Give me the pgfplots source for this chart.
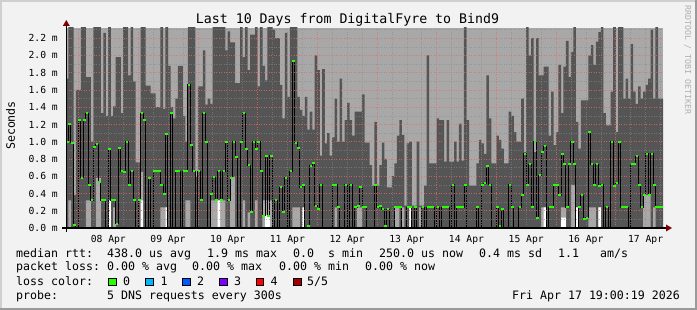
\documentclass[border=0pt]{standalone}
\usepackage{pgfplots}
\pgfplotsset{compat=1.18}
\usepackage{pgfplotstable}
\usepackage{fontspec}
\setmainfont{DejaVu Sans Mono}
\definecolor{bgc}{HTML}{F2F2F2}
\definecolor{brdlight}{HTML}{CFCFCF}
\definecolor{brddark}{HTML}{9A9A9A}
\definecolor{smokelight}{HTML}{A8A8A8}
\definecolor{smokedark}{HTML}{555555}
\definecolor{mgrid}{HTML}{E86A6A}
\definecolor{sgrid}{HTML}{8A8A8A}
\definecolor{arrowc}{HTML}{7F0000}
\definecolor{lossA}{HTML}{26FF00}
\definecolor{lossB}{HTML}{00B8FF}
\definecolor{lossC}{HTML}{0059FF}
\definecolor{lossD}{HTML}{7E00FF}
\definecolor{lossE}{HTML}{FF0000}
\definecolor{lossF}{HTML}{A10000}
\definecolor{credit}{HTML}{B0B0B0}

% dark smoke band top (ms), one value per hour, 240 hours
\pgfplotstableread[row sep=\\]{h\\
1.73\\2.4\\2.4\\0.38\\1.6\\1.6\\2.4\\2.4\\1.75\\1.75\\
1.0\\2.4\\2.4\\2.4\\1.33\\2.26\\1.3\\2.4\\1.3\\1.41\\
1.98\\1.98\\1.33\\2.4\\2.4\\1.77\\2.4\\1.7\\0.76\\0.76\\
2.4\\2.4\\1.65\\1.65\\1.56\\1.56\\1.4\\1.4\\2.4\\1.38\\
2.4\\1.88\\1.4\\1.27\\1.5\\1.88\\1.88\\1.3\\1.0\\2.4\\
2.4\\2.4\\0.59\\1.64\\1.64\\2.06\\1.43\\1.5\\1.44\\2.4\\
2.4\\2.4\\2.4\\2.4\\2.06\\2.28\\2.15\\2.15\\1.68\\1.68\\
2.4\\1.98\\2.4\\1.83\\2.24\\2.24\\2.4\\1.64\\2.4\\1.88\\
1.71\\2.4\\2.4\\2.3\\2.2\\2.2\\1.66\\1.27\\2.26\\1.52\\
2.4\\2.4\\2.4\\1.52\\1.37\\1.3\\1.52\\1.14\\1.35\\1.14\\
2.0\\1.83\\0.84\\1.84\\0.98\\1.1\\0.84\\1.05\\1.5\\1.0\\
1.73\\1.0\\1.25\\1.45\\1.25\\1.07\\1.35\\1.35\\1.35\\1.55\\
0.99\\0.99\\0.73\\0.49\\1.23\\0.49\\0.73\\0.99\\0.8\\0.47\\
0.47\\0.6\\0.75\\1.07\\1.25\\1.08\\0.26\\0.98\\1.0\\0.26\\
0.26\\1.0\\0.26\\0.26\\0.49\\2.0\\0.75\\0.75\\0.75\\1.27\\
1.25\\1.25\\0.77\\1.25\\0.77\\0.77\\1.0\\0.77\\1.21\\0.78\\
2.4\\1.25\\0.49\\0.49\\0.49\\0.75\\1.02\\0.98\\0.86\\1.77\\
1.27\\0.75\\0.75\\1.07\\1.02\\0.92\\0.75\\0.75\\1.35\\1.3\\
1.11\\1.0\\1.0\\1.5\\0.88\\2.4\\2.0\\2.2\\0.88\\2.2\\
1.77\\1.77\\1.87\\1.87\\1.07\\1.58\\0.96\\1.11\\1.89\\1.33\\
1.87\\2.17\\1.75\\2.04\\2.4\\1.23\\0.92\\1.48\\1.48\\1.48\\
2.0\\2.12\\1.89\\2.16\\2.27\\2.4\\1.33\\1.19\\1.19\\1.58\\
2.4\\1.11\\2.4\\2.4\\1.5\\1.73\\1.5\\2.13\\1.58\\1.44\\
1.64\\1.5\\1.58\\1.66\\1.73\\2.3\\1.5\\2.4\\1.5\\1.5\\
}\darktab

% median rtt (ms), one value per hour
\pgfplotstableread[row sep=\\]{m\\
1.0\\1.2\\0.99\\0.04\\0\\1.25\\0.58\\1.25\\1.33\\0.5\\
0.32\\0.94\\0.97\\0.53\\0.32\\0.32\\0\\0.91\\0.32\\0.32\\
0.05\\0.93\\0.66\\0.65\\1.0\\0.5\\0.66\\0.32\\0\\0.32\\
1.33\\1.25\\0\\0.58\\0\\0.66\\0.66\\0.66\\0.5\\0.39\\
1.09\\0\\1.33\\0\\0.66\\0.66\\0\\0.66\\0.66\\1.66\\
0.96\\0.66\\0\\0.66\\0.32\\1.33\\1.0\\0\\0.39\\0.59\\
0.32\\0.66\\0.32\\0.66\\1.0\\0.32\\0.58\\1.0\\0.82\\0\\
1.0\\1.33\\0.91\\0.73\\0.18\\1.0\\0.91\\1.0\\0.66\\0.14\\
0.84\\0.14\\0.84\\0\\0.32\\0\\0.47\\0.18\\0.58\\0\\
0.66\\1.93\\0.99\\0.93\\0.47\\0.5\\0\\0.02\\0.72\\0.75\\
0.26\\0.22\\0.5\\0\\0\\0\\0\\0.5\\0.5\\0.24\\
0\\0\\0.5\\0\\0.5\\0\\0.24\\0.26\\0.47\\0.24\\
0.24\\0\\0\\0\\0.5\\0.24\\0.26\\0.22\\0.02\\0.22\\
0\\0\\0.24\\0.24\\0.24\\0\\0\\0.24\\0.24\\0\\
0.24\\0\\0\\0.24\\0\\0.24\\0.24\\0.24\\0\\0.24\\
0\\0.24\\0.24\\0.24\\0\\0.5\\0\\0.24\\0.24\\0.24\\
0.5\\0\\0\\0\\0\\0.24\\0\\0.5\\0.52\\0.72\\
0.5\\0\\0\\0.24\\0.02\\0.22\\0\\0\\0.5\\0.24\\
0\\0\\0.24\\0.38\\0.86\\0.5\\0.74\\0.24\\1.0\\0.12\\
0.61\\0.88\\0.95\\0\\0.24\\0.24\\0.5\\0.5\\0.38\\0.86\\
0.74\\0.24\\0.74\\1.0\\0.74\\0\\0.24\\0.38\\0.1\\0.12\\
1.11\\0.74\\0.5\\0.74\\0.49\\0.5\\0\\0.24\\0\\1.0\\
0.49\\0.52\\1.0\\0.24\\0.24\\0.24\\0\\0.74\\0.74\\0.83\\
0.5\\0.24\\0.38\\0.86\\0.38\\0.86\\0.5\\0.24\\0.24\\0.24\\
}\medtab

\newcommand{\lgf}{\fontsize{11.6}{13}\selectfont}

\begin{document}
\begin{tikzpicture}
\begin{scope}[x=1pt,y=1pt]
\fill[bgc] (0,0) rectangle (697,310);
\fill[brdlight] (0,0) rectangle (2,310);
\fill[brdlight] (0,308) rectangle (697,310);
\fill[brddark] (695,0) rectangle (697,310);
\fill[brddark] (0,0) rectangle (697,2);
\end{scope}

\begin{axis}[
  at={(66pt,82pt)}, anchor=south west,
  scale only axis, width=597pt, height=200pt,
  xmin=0, xmax=240, ymin=0, ymax=2.318,
  axis background/.style={fill=smokelight},
  axis on top,
  axis line style={draw=none},
  tick style={draw=none},
  xtick={5,29,53,77,101,125,149,173,197,221},
  xticklabel={\phantom{0}},
  minor xtick={11,17,23,35,41,47,59,65,71,83,89,95,107,113,119,131,137,143,155,161,167,179,185,191,203,209,215,227,233,239},
  extra x ticks={17,41,65,89,113,137,161,185,209,233},
  extra x tick labels={08 Apr,09 Apr,10 Apr,11 Apr,12 Apr,13 Apr,14 Apr,15 Apr,16 Apr,17 Apr},
  extra x tick style={grid=none},
  ytick={0,0.2,0.4,0.6,0.8,1.0,1.2,1.4,1.6,1.8,2.0,2.2},
  yticklabels={0.0 m,0.2 m,0.4 m,0.6 m,0.8 m,1.0 m,1.2 m,1.4 m,1.6 m,1.8 m,2.0 m,2.2 m},
  minor ytick={0.1,0.3,0.5,0.7,0.9,1.1,1.3,1.5,1.7,1.9,2.1,2.3},
  grid=both,
  major grid style={mgrid, opacity=0.75, line width=0.55pt, dash pattern=on 1pt off 1.5pt},
  minor grid style={sgrid, opacity=0.6, line width=0.55pt, dash pattern=on 1pt off 1.5pt},
  ticklabel style={font=\fontsize{9.7}{10}\selectfont, inner sep=0pt},
  xticklabel style={anchor=north, yshift=-7pt},
  yticklabel style={anchor=east, xshift=-8pt},
]
% inner smoke band
\addplot[ybar, bar width=1.04, bar shift=0pt, fill=smokedark, draw=none]
  table[x expr=\coordindex+0.5, y=h]{\darktab};
% lowest smoke band near zero
\addplot[ybar, bar width=1.04, bar shift=0pt, fill=smokelight, draw=none] coordinates {
(1.5,0.32) (8.5,0.32) (9.5,0.32) (12.5,0.58) (13.5,0.58) (17.5,0.32) (19.5,0.24)
(30.5,0.65) (38.5,0.24) (39.5,0.24) (40.5,0.24) (48.5,0.32) (49.5,0.32) (58.5,0.32)
(59.5,0.32) (60.5,0.32) (61.5,0.32) (62.5,0.32) (63.5,0.32) (66.5,0.59) (67.5,0.59)
(71.5,0.32) (73.5,0.18) (76.5,0.32) (79.5,0.32) (80.5,0.32) (81.5,0.32) (82.5,0.32)
(91.5,0.24) (92.5,0.24) (93.5,0.24) (95.5,0.24) (108.5,0.24) (117.5,0.24) (118.5,0.24)
(132.5,0.24) (133.5,0.24) (135.5,0.24) (138.5,0.24) (142.5,0.24) (191.5,0.24) (192.5,0.24)
(199.5,0.24) (200.5,0.24) (203.5,0.5) (204.5,0.5) (205.5,0.24) (210.5,0.24) (211.5,0.24)
(212.5,0.24) (214.5,0.24) (232.5,0.38) (233.5,0.38) (234.5,0.38) (236.5,0.24)};
% no smoke (white canvas)
\addplot[ybar, bar width=1, bar shift=0pt, fill=white, draw=none] coordinates {
(17.5,0.32) (30.5,0.32) (40.5,0.24) (61.5,0.32) (80.5,0.15) (81.5,0.15) (95.5,0.24)
(138.5,0.24) (192.5,0.24) (199.5,0.12) (200.5,0.12) (205.5,0.24) (214.5,0.24)};
% median
\addplot[const plot mark mid, black, line width=1pt, mark=none]
  table[x expr=\coordindex+0.5, y=m]{\medtab};
\addplot[only marks, mark=-, mark size=1.3pt, mark options={draw=lossA, line width=2pt}]
  table[x expr=\coordindex+0.5, y=m]{\medtab};
\end{axis}

\begin{scope}[x=1pt,y=1pt]
\draw[black, line width=1.1pt] (62,82) -- (667,82);
\draw[black, line width=0.8pt] (66.3,78) -- (66.3,285);
\fill[arrowc] (666,85.5) -- (672,82) -- (666,78.5) -- cycle;
\fill[arrowc] (62.8,284) -- (66.3,290) -- (69.8,284) -- cycle;

\node[anchor=base, inner sep=0] at (347.5,286) {\fontsize{13.25}{15}\selectfont Last 10 Days from DigitalFyre to Bind9};
\node[anchor=base, rotate=90, inner sep=0] at (14.8,184.5) {\lgf Seconds};
\node[anchor=base, rotate=-90, inner sep=0, text=credit] at (685,250) {\fontsize{8.3}{9}\selectfont RRDTOOL / TOBI OETIKER};

\node[anchor=base west, inner sep=0] at (16,52.7) {\lgf median rtt:};
\node[anchor=base west, inner sep=0] at (107,52.7) {\lgf 438.0 us avg};
\node[anchor=base west, inner sep=0] at (207,52.7) {\lgf 1.9 ms max};
\node[anchor=base west, inner sep=0] at (293,52.7) {\lgf 0.0\ \ s min};
\node[anchor=base west, inner sep=0] at (379,52.7) {\lgf 250.0 us now};
\node[anchor=base west, inner sep=0] at (479,52.7) {\lgf 0.4 ms sd};
\node[anchor=base west, inner sep=0] at (558,52.7) {\lgf 1.1};
\node[anchor=base west, inner sep=0] at (600,52.7) {\lgf am/s};

\node[anchor=base west, inner sep=0] at (16,39) {\lgf packet loss:};
\node[anchor=base west, inner sep=0] at (107,39) {\lgf 0.00 \% avg};
\node[anchor=base west, inner sep=0] at (192,39) {\lgf 0.00 \% max};
\node[anchor=base west, inner sep=0] at (279,39) {\lgf 0.00 \% min};
\node[anchor=base west, inner sep=0] at (365,39) {\lgf 0.00 \% now};

\node[anchor=base west, inner sep=0] at (16,24.3) {\lgf loss color:};
\draw[fill=lossA, draw=black, line width=0.6pt] (108.5,24.3) rectangle (116,31.8);
\node[anchor=base west, inner sep=0] at (123,24.3) {\lgf 0};
\draw[fill=lossB, draw=black, line width=0.6pt] (145.7,24.3) rectangle (153.2,31.8);
\node[anchor=base west, inner sep=0] at (160.5,24.3) {\lgf 1};
\draw[fill=lossC, draw=black, line width=0.6pt] (182.7,24.3) rectangle (190.2,31.8);
\node[anchor=base west, inner sep=0] at (197,24.3) {\lgf 2};
\draw[fill=lossD, draw=black, line width=0.6pt] (219.3,24.3) rectangle (226.8,31.8);
\node[anchor=base west, inner sep=0] at (234,24.3) {\lgf 3};
\draw[fill=lossE, draw=black, line width=0.6pt] (256,24.3) rectangle (263.5,31.8);
\node[anchor=base west, inner sep=0] at (270.5,24.3) {\lgf 4};
\draw[fill=lossF, draw=black, line width=0.6pt] (293.3,24.3) rectangle (300.8,31.8);
\node[anchor=base west, inner sep=0] at (307,24.3) {\lgf 5/5};

\node[anchor=base west, inner sep=0] at (16,10.7) {\lgf probe:};
\node[anchor=base west, inner sep=0] at (107,10.7) {\lgf 5 DNS requests every 300s};
\node[anchor=base east, inner sep=0] at (680,10.7) {\lgf Fri Apr 17 19:00:19 2026};
\end{scope}
\pgfresetboundingbox
\path[use as bounding box] (0pt,0pt) rectangle (697pt,310pt);
\end{tikzpicture}
\end{document}
